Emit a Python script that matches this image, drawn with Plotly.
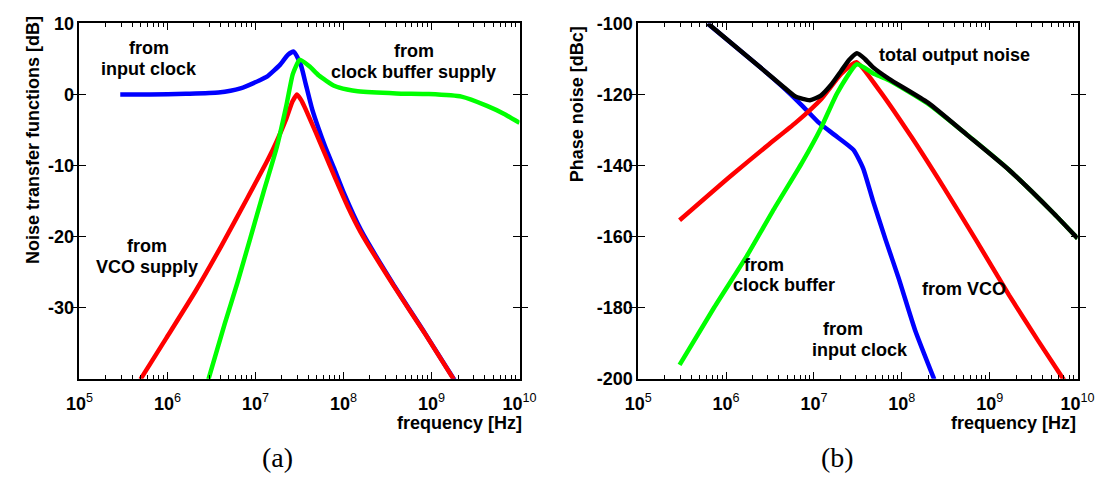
import plotly.graph_objects as go

# ---------------- data (a): noise transfer functions [dB] ----------------
fa_input = [2.91e5, 6.31e5, 1.62e6, 3.80e6, 6.76e6, 1.12e7, 1.35e7, 1.91e7, 2.34e7, 2.72e7,
            3.27e7, 3.72e7, 4.41e7, 5.21e7, 6.17e7, 7.94e7, 1.02e8, 1.58e8, 3.63e8, 8.51e8, 1.82e9]
va_input = [0.0, 0.0, 0.1, 0.27, 0.85, 2.0, 2.5, 4.2, 5.6, 6.04,
            4.2, 1.5, -2.1, -4.8, -7.3, -10.6, -14.0, -19.1, -26.6, -33.7, -40.2]

fa_vco = [4.93e5, 9.70e5, 2.08e6, 4.10e6, 8.07e6, 1.38e7, 1.74e7, 2.24e7, 2.63e7, 2.96e7,
          3.31e7, 3.72e7, 4.79e7, 6.17e7, 7.94e7, 1.12e8, 1.57e8, 3.66e8, 8.55e8, 1.79e9]
va_vco = [-40.1, -34.3, -27.7, -21.3, -14.6, -9.2, -6.6, -3.4, -1.0, 0.0,
          -0.8, -2.1, -5.2, -8.4, -11.6, -15.8, -19.4, -26.8, -33.8, -40.1]

fa_buf = [2.92e6, 4.47e6, 6.27e6, 8.79e6, 1.23e7, 1.74e7, 2.24e7, 2.66e7, 3.19e7, 4.07e7,
          5.25e7, 7.94e7, 1.10e8, 1.45e8, 3.98e8, 9.33e8, 2.19e9, 4.27e9, 6.61e9, 1.0e10]
va_buf = [-40.1, -32.3, -26.4, -20.1, -13.8, -7.5, -1.6, 2.9, 4.9, 4.0,
          2.66, 1.2, 0.7, 0.45, 0.15, 0.05, -0.3, -1.6, -2.7, -4.0]

# ---------------- data (b): phase noise [dBc] ----------------
fb_input = [6.17e5, 2.63e6, 4.37e6, 7.24e6, 1.11e7, 1.70e7, 2.82e7, 3.63e7, 4.68e7, 6.56e7,
            9.23e7, 1.41e8, 2.34e8]
vb_input = [-100.0, -113.0, -117.8, -123.0, -127.7, -131.3, -135.6, -140.8, -149.8, -161.0,
            -171.8, -186.2, -200.2]

fb_vco = [2.96e5, 1.12e6, 3.09e6, 6.17e6, 1.20e7, 2.04e7, 3.05e7, 5.50e7, 1.29e8, 3.02e8,
          7.08e8, 1.66e9, 3.55e9, 7.0e9]
vb_vco = [-155.4, -143.0, -134.0, -128.0, -121.4, -114.2, -110.9, -118.7, -132.0, -146.3,
          -161.2, -176.5, -189.3, -200.4]

fb_buf = [2.96e5, 7.35e5, 1.72e6, 3.39e6, 7.24e6, 1.20e7, 1.84e7, 3.09e7, 4.68e7, 7.14e7,
          1.98e8, 5.48e8, 1.65e9, 5.37e9, 1.0e10]
vb_buf = [-196.1, -179.9, -165.5, -152.9, -139.4, -129.5, -119.6, -111.5, -114.0, -116.0,
          -122.6, -131.3, -141.2, -153.5, -160.5]

fb_total = [6.21e5, 2.63e6, 4.37e6, 6.17e6, 9.02e6, 1.20e7, 1.58e7, 2.04e7, 2.51e7, 3.09e7,
            3.80e7, 4.68e7, 7.14e7, 1.98e8, 5.48e8, 1.65e9, 5.37e9, 1.0e10]
vb_total = [-100.0, -113.0, -117.6, -120.6, -121.6, -120.3, -117.2, -113.4, -110.3, -108.4,
            -110.0, -112.3, -115.6, -122.3, -131.3, -141.2, -153.5, -160.5]

x_tickvals = [1e5, 1e6, 1e7, 1e8, 1e9, 1e10]
x_ticktext = ["<b>10</b><sup>5</sup>", "<b>10</b><sup>6</sup>", "<b>10</b><sup>7</sup>",
              "<b>10</b><sup>8</sup>", "<b>10</b><sup>9</sup>", "<b>10</b><sup>10</sup>"]
x_minorvals = [m * 10 ** e for e in range(5, 10) for m in range(2, 10)]
ya_tickvals = [-30, -20, -10, 0, 10]
ya_ticktext = ["<b>-30</b>", "<b>-20</b>", "<b>-10</b>", "<b>0</b>", "<b>10</b>"]
yb_tickvals = [-200, -180, -160, -140, -120, -100]
yb_ticktext = ["<b>-200</b>", "<b>-180</b>", "<b>-160</b>", "<b>-140</b>", "<b>-120</b>", "<b>-100</b>"]

BLUE, RED, GREEN, BLACK = "#0000ff", "#ff0000", "#00ff00", "#000000"
SANS = "Liberation Sans, Arial, sans-serif"
SERIF = "Liberation Serif, Times New Roman, serif"
LW = 4.5

fig = go.Figure()

def add(x, y, color, xa, ya):
    fig.add_trace(go.Scatter(x=x, y=y, mode="lines", xaxis=xa, yaxis=ya,
                             line=dict(color=color, width=LW, shape="spline", smoothing=0.5),
                             showlegend=False, hoverinfo="skip"))

add(fa_input, va_input, BLUE, "x", "y")
add(fa_vco, va_vco, RED, "x", "y")
add(fa_buf, va_buf, GREEN, "x", "y")

add(fb_input, vb_input, BLUE, "x2", "y2")
add(fb_vco, vb_vco, RED, "x2", "y2")
add(fb_buf, vb_buf, GREEN, "x2", "y2")
add(fb_total, vb_total, BLACK, "x2", "y2")

# empty traces so the minor-tick overlay axes are drawn
for xa, ya in (("x3", "y"), ("x4", "y2")):
    fig.add_trace(go.Scatter(x=[1e6], y=[None], mode="lines", xaxis=xa, yaxis=ya,
                             showlegend=False, hoverinfo="skip"))

W, H = 1115, 491
ydom = [1 - 384.3 / H, 1 - 14 / H]

xcommon = dict(type="log", range=[5, 10], tickmode="array", tickvals=x_tickvals,
               ticktext=x_ticktext, ticks="inside", ticklen=7, tickwidth=1, tickcolor="black",
               showline=True, linecolor="black", linewidth=1.5, mirror="allticks",
               showgrid=False, zeroline=False, ticklabelstandoff=8,
               tickfont=dict(family=SANS, size=18, color="black"))
xminor = dict(type="log", range=[5, 10], tickmode="array", tickvals=x_minorvals,
              ticks="inside", ticklen=4, tickwidth=1, tickcolor="black",
              showticklabels=False, showline=True, linecolor="black", linewidth=1.5,
              mirror="ticks", showgrid=False, zeroline=False, side="bottom")
ycommon = dict(ticks="inside", ticklen=7, tickwidth=1, tickcolor="black",
               showline=True, linecolor="black", linewidth=1.5, mirror="allticks",
               showgrid=False, zeroline=False,
               tickfont=dict(family=SANS, size=18, color="black"))

fig.update_layout(
    width=W, height=H, margin=dict(l=0, r=0, t=0, b=0),
    paper_bgcolor="white", plot_bgcolor="white",
    xaxis=dict(domain=[67.3 / W, 520 / W], anchor="y", **xcommon),
    yaxis=dict(domain=ydom, anchor="x", range=[-40, 10], tickvals=ya_tickvals,
               ticktext=ya_ticktext, **ycommon),
    xaxis2=dict(domain=[642 / W, 1094 / W], anchor="y2", **xcommon),
    yaxis2=dict(domain=ydom, anchor="x2", range=[-200, -100], tickvals=yb_tickvals,
                ticktext=yb_ticktext, **ycommon),
    xaxis3=dict(overlaying="x", anchor="y", **xminor),
    xaxis4=dict(overlaying="x2", anchor="y2", **xminor),
)

def txt(x, y, s, size=18, family=SANS, xanchor="center", angle=0, bold=True):
    fig.add_annotation(x=x / W, y=1 - y / H, xref="paper", yref="paper", text=s,
                       showarrow=False, xanchor=xanchor, yanchor="middle", textangle=angle,
                       font=dict(family=family, size=size, color="black",
                                 weight="bold" if bold else "normal"))

# labels (a)
txt(139, 40, "from")
txt(139, 61.5, "input clock")
txt(411, 43, "from")
txt(411, 64.5, "clock buffer supply")
txt(137, 246, "from")
txt(137, 267.5, "VCO supply")
txt(19.6, 135.5, "Noise transfer functions [dB]", angle=-90)
txt(525, 431, "frequency [Hz]", xanchor="right")
txt(271, 467, "(a)", size=28, family=SERIF, bold=False)

# labels (b)
txt(967.5, 46.5, "total output noise")
txt(771.7, 266, "from")
txt(792.5, 287, "clock buffer")
txt(977, 291, "from VCO")
txt(853, 333, "from")
txt(870, 354.5, "input clock")
txt(580, 98.5, "Phase noise [dBc]", angle=-90)
txt(1094, 431, "frequency [Hz]", xanchor="right")
txt(846.7, 467, "(b)", size=28, family=SERIF, bold=False)

fig.write_html("out.html")
